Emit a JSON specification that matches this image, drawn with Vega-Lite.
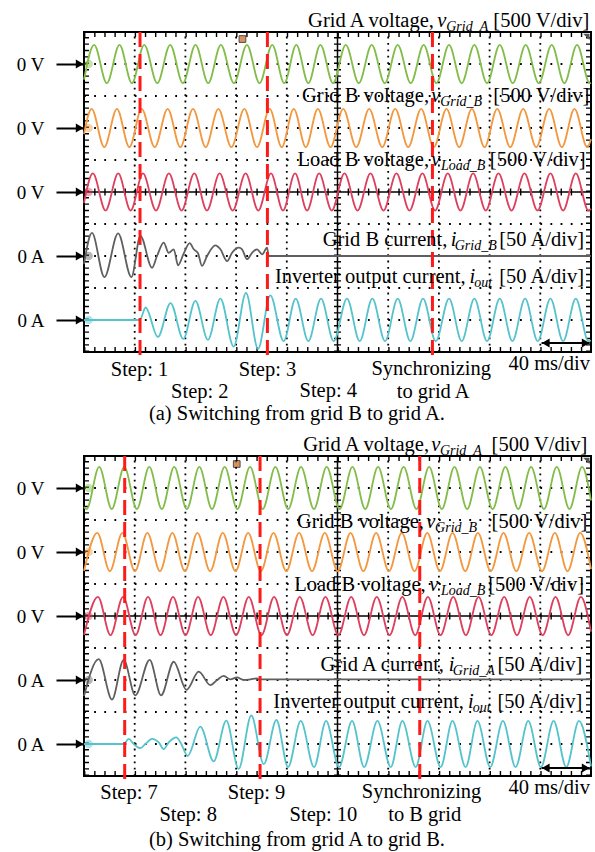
{
  "$schema": "https://vega.github.io/schema/vega-lite/v6.json",
  "background": "white",
  "padding": {"left": 15, "top": 10, "right": 3, "bottom": 0},
  "bounds": "flush",
  "spacing": 104,
  "config": {
    "view": {"stroke": "black", "strokeWidth": 2},
    "font": "Liberation Serif",
    "text": {"font": "Liberation Serif", "fontSize": 20.5, "color": "black"}
  },
  "datasets": {
    "gridV": [{"t":40,"v":0,"v2":10},{"t":80,"v":0,"v2":10},{"t":120,"v":0,"v2":10},{"t":160,"v":0,"v2":10},{"t":240,"v":0,"v2":10},{"t":280,"v":0,"v2":10},{"t":320,"v":0,"v2":10},{"t":360,"v":0,"v2":10}],
    "gridH": [{"t":0,"t2":400,"v":1},{"t":0,"t2":400,"v":2},{"t":0,"t2":400,"v":3},{"t":0,"t2":400,"v":4},{"t":0,"t2":400,"v":6},{"t":0,"t2":400,"v":7},{"t":0,"t2":400,"v":8},{"t":0,"t2":400,"v":9}],
    "ctrV": [{"t":200,"v":0,"v2":10}],
    "ctrH": [{"t":0,"t2":400,"v":5}],
    "edgeH": [{"t":0,"t2":400,"v":0.08},{"t":0,"t2":400,"v":9.92}],
    "edgeV": [{"t":1.97,"v":0,"v2":10},{"t":398.03,"v":0,"v2":10}],
    "mk": [{"s":"gA","t":3.7,"v":9},{"s":"gB","t":3.7,"v":7},{"s":"lB","t":3.7,"v":5},{"s":"ig","t":3.7,"v":3},{"s":"io","t":3.7,"v":1}],
    "corner": [{"t":396.3,"v":9.85}],
    "wa": [
      {"s":"gA","t":0,"v":8.51},{"s":"gA","t":8,"v":9.6},{"s":"gA","t":18,"v":8.4},{"s":"gA","t":28,"v":9.6},{"s":"gA","t":37.8,"v":8.4},{"s":"gA","t":47.5,"v":9.6},{"s":"gA","t":57.8,"v":8.4},{"s":"gA","t":68,"v":9.6},{"s":"gA","t":78,"v":8.4},{"s":"gA","t":88,"v":9.6},{"s":"gA","t":98,"v":8.4},{"s":"gA","t":108,"v":9.6},{"s":"gA","t":118.3,"v":8.4},{"s":"gA","t":128.5,"v":9.6},{"s":"gA","t":138.5,"v":8.4},{"s":"gA","t":148.5,"v":9.6},{"s":"gA","t":158,"v":8.4},{"s":"gA","t":167.5,"v":9.6},{"s":"gA","t":177,"v":8.4},{"s":"gA","t":186.5,"v":9.6},{"s":"gA","t":196.5,"v":8.4},{"s":"gA","t":206.5,"v":9.6},{"s":"gA","t":216.8,"v":8.4},{"s":"gA","t":227,"v":9.6},{"s":"gA","t":237.3,"v":8.4},{"s":"gA","t":247.5,"v":9.6},{"s":"gA","t":257.8,"v":8.4},{"s":"gA","t":268,"v":9.6},{"s":"gA","t":278,"v":8.4},{"s":"gA","t":288,"v":9.6},{"s":"gA","t":298,"v":8.4},{"s":"gA","t":308,"v":9.6},{"s":"gA","t":318,"v":8.4},{"s":"gA","t":328,"v":9.6},{"s":"gA","t":338.3,"v":8.4},{"s":"gA","t":348.5,"v":9.6},{"s":"gA","t":358.8,"v":8.4},{"s":"gA","t":369,"v":9.6},{"s":"gA","t":379,"v":8.4},{"s":"gA","t":389,"v":9.6},{"s":"gA","t":399,"v":8.4},{"s":"gA","t":400,"v":8.41},
      {"s":"gB","t":0,"v":6.81},{"s":"gB","t":6,"v":7.6},{"s":"gB","t":16,"v":6.4},{"s":"gB","t":26,"v":7.6},{"s":"gB","t":35.8,"v":6.4},{"s":"gB","t":45.5,"v":7.6},{"s":"gB","t":55.8,"v":6.4},{"s":"gB","t":66,"v":7.6},{"s":"gB","t":76,"v":6.4},{"s":"gB","t":86,"v":7.6},{"s":"gB","t":96,"v":6.4},{"s":"gB","t":106,"v":7.6},{"s":"gB","t":116.3,"v":6.4},{"s":"gB","t":126.5,"v":7.6},{"s":"gB","t":136.5,"v":6.4},{"s":"gB","t":146.5,"v":7.6},{"s":"gB","t":156,"v":6.4},{"s":"gB","t":165.5,"v":7.6},{"s":"gB","t":175,"v":6.4},{"s":"gB","t":184.5,"v":7.6},{"s":"gB","t":194.5,"v":6.4},{"s":"gB","t":204.5,"v":7.6},{"s":"gB","t":214.8,"v":6.4},{"s":"gB","t":225,"v":7.6},{"s":"gB","t":235.3,"v":6.4},{"s":"gB","t":245.5,"v":7.6},{"s":"gB","t":255.8,"v":6.4},{"s":"gB","t":266,"v":7.6},{"s":"gB","t":276,"v":6.4},{"s":"gB","t":286,"v":7.6},{"s":"gB","t":296,"v":6.4},{"s":"gB","t":306,"v":7.6},{"s":"gB","t":316,"v":6.4},{"s":"gB","t":326,"v":7.6},{"s":"gB","t":336.3,"v":6.4},{"s":"gB","t":346.5,"v":7.6},{"s":"gB","t":356.8,"v":6.4},{"s":"gB","t":367,"v":7.6},{"s":"gB","t":377,"v":6.4},{"s":"gB","t":387,"v":7.6},{"s":"gB","t":397,"v":6.4},{"s":"gB","t":400,"v":6.65},
      {"s":"lB","t":0,"v":4.66},{"s":"lB","t":7,"v":5.58},{"s":"lB","t":17,"v":4.42},{"s":"lB","t":27,"v":5.58},{"s":"lB","t":36.8,"v":4.42},{"s":"lB","t":46.5,"v":5.58},{"s":"lB","t":56.8,"v":4.42},{"s":"lB","t":67,"v":5.58},{"s":"lB","t":77,"v":4.42},{"s":"lB","t":87,"v":5.58},{"s":"lB","t":97,"v":4.42},{"s":"lB","t":107,"v":5.58},{"s":"lB","t":117.3,"v":4.42},{"s":"lB","t":127.5,"v":5.58},{"s":"lB","t":137.5,"v":4.42},{"s":"lB","t":147.5,"v":5.58},{"s":"lB","t":157,"v":4.42},{"s":"lB","t":166.5,"v":5.58},{"s":"lB","t":176,"v":4.42},{"s":"lB","t":185.5,"v":5.58},{"s":"lB","t":195.5,"v":4.42},{"s":"lB","t":205.5,"v":5.58},{"s":"lB","t":215.8,"v":4.42},{"s":"lB","t":226,"v":5.58},{"s":"lB","t":236.3,"v":4.42},{"s":"lB","t":246.5,"v":5.58},{"s":"lB","t":256.8,"v":4.42},{"s":"lB","t":267,"v":5.58},{"s":"lB","t":277,"v":4.42},{"s":"lB","t":287,"v":5.58},{"s":"lB","t":297,"v":4.42},{"s":"lB","t":307,"v":5.58},{"s":"lB","t":317,"v":4.42},{"s":"lB","t":327,"v":5.58},{"s":"lB","t":337.3,"v":4.42},{"s":"lB","t":347.5,"v":5.58},{"s":"lB","t":357.8,"v":4.42},{"s":"lB","t":368,"v":5.58},{"s":"lB","t":378,"v":4.42},{"s":"lB","t":388,"v":5.58},{"s":"lB","t":398,"v":4.42},{"s":"lB","t":400,"v":4.47},
      {"s":"ig","t":0,"v":2.75},{"s":"ig","t":6.3,"v":3.72},{"s":"ig","t":16.1,"v":2.34},{"s":"ig","t":26.9,"v":3.71},{"s":"ig","t":37.4,"v":2.34},{"s":"ig","t":44.5,"v":3.63},{"s":"ig","t":53.7,"v":2.63},{"s":"ig","t":57.6,"v":3.0},{"s":"ig","t":62.9,"v":3.42},{"s":"ig","t":66.8,"v":3.1},{"s":"ig","t":70.8,"v":3.21},{"s":"ig","t":74.2,"v":2.71},{"s":"ig","t":78.7,"v":3.08},{"s":"ig","t":83.4,"v":3.4},{"s":"ig","t":86.6,"v":3.21},{"s":"ig","t":90,"v":3.08},{"s":"ig","t":93.1,"v":2.69},{"s":"ig","t":97.1,"v":3.0},{"s":"ig","t":103.6,"v":3.33},{"s":"ig","t":107.6,"v":3.21},{"s":"ig","t":112.9,"v":2.84},{"s":"ig","t":116.8,"v":3.1},{"s":"ig","t":122.1,"v":3.26},{"s":"ig","t":124.7,"v":3.21},{"s":"ig","t":128.6,"v":2.9},{"s":"ig","t":132.6,"v":3.1},{"s":"ig","t":136.5,"v":3.21},{"s":"ig","t":140.5,"v":3.05},{"s":"ig","t":144.4,"v":3.26},{"s":"ig","t":145.7,"v":3.0},{"s":"ig","t":400,"v":3.0},
      {"s":"io","t":0,"v":1.0},{"s":"io","t":44,"v":1.0},{"s":"io","t":48.6,"v":1.39},{"s":"io","t":58.3,"v":0.47},{"s":"io","t":68.3,"v":1.53},{"s":"io","t":78.3,"v":0.41},{"s":"io","t":87.9,"v":1.6},{"s":"io","t":97.8,"v":0.38},{"s":"io","t":107.6,"v":1.67},{"s":"io","t":118.1,"v":0.17},{"s":"io","t":127.8,"v":1.85},{"s":"io","t":137.3,"v":0.1},{"s":"io","t":147,"v":1.77},{"s":"io","t":157.5,"v":0.34},{"s":"io","t":167,"v":1.67},{"s":"io","t":177,"v":0.34},{"s":"io","t":187,"v":1.67},{"s":"io","t":197,"v":0.34},{"s":"io","t":207.5,"v":1.67},{"s":"io","t":217.5,"v":0.34},{"s":"io","t":227.5,"v":1.67},{"s":"io","t":237.5,"v":0.34},{"s":"io","t":247.5,"v":1.67},{"s":"io","t":257.5,"v":0.34},{"s":"io","t":267.5,"v":1.67},{"s":"io","t":277.5,"v":0.34},{"s":"io","t":288,"v":1.67},{"s":"io","t":298,"v":0.34},{"s":"io","t":308,"v":1.67},{"s":"io","t":318,"v":0.34},{"s":"io","t":328,"v":1.67},{"s":"io","t":338,"v":0.34},{"s":"io","t":348,"v":1.67},{"s":"io","t":358,"v":0.34},{"s":"io","t":368,"v":1.67},{"s":"io","t":378,"v":0.34},{"s":"io","t":388,"v":1.67},{"s":"io","t":398,"v":0.34},{"s":"io","t":400,"v":0.36}
    ],
    "wb": [
      {"s":"gA","t":0,"v":8.4},{"s":"gA","t":2,"v":8.34},{"s":"gA","t":12,"v":9.66},{"s":"gA","t":21.9,"v":8.34},{"s":"gA","t":31.8,"v":9.66},{"s":"gA","t":41.7,"v":8.34},{"s":"gA","t":51.5,"v":9.66},{"s":"gA","t":61.4,"v":8.34},{"s":"gA","t":71.2,"v":9.66},{"s":"gA","t":81.1,"v":8.34},{"s":"gA","t":91,"v":9.66},{"s":"gA","t":101,"v":8.34},{"s":"gA","t":111,"v":9.66},{"s":"gA","t":121,"v":8.34},{"s":"gA","t":131,"v":9.66},{"s":"gA","t":141,"v":8.34},{"s":"gA","t":151,"v":9.66},{"s":"gA","t":161.1,"v":8.34},{"s":"gA","t":171.2,"v":9.66},{"s":"gA","t":181.4,"v":8.34},{"s":"gA","t":191.5,"v":9.66},{"s":"gA","t":201.7,"v":8.34},{"s":"gA","t":211.8,"v":9.66},{"s":"gA","t":221.9,"v":8.34},{"s":"gA","t":232,"v":9.66},{"s":"gA","t":242.1,"v":8.34},{"s":"gA","t":252.2,"v":9.66},{"s":"gA","t":262.3,"v":8.34},{"s":"gA","t":272.3,"v":9.66},{"s":"gA","t":282.3,"v":8.34},{"s":"gA","t":292.3,"v":9.66},{"s":"gA","t":302.3,"v":8.34},{"s":"gA","t":312.3,"v":9.66},{"s":"gA","t":322.4,"v":8.34},{"s":"gA","t":332.5,"v":9.66},{"s":"gA","t":342.6,"v":8.34},{"s":"gA","t":352.7,"v":9.66},{"s":"gA","t":362.9,"v":8.34},{"s":"gA","t":373,"v":9.66},{"s":"gA","t":383,"v":8.34},{"s":"gA","t":393,"v":9.66},{"s":"gA","t":400,"v":8.61},
      {"s":"gB","t":0,"v":6.41},{"s":"gB","t":10.5,"v":7.6},{"s":"gB","t":20.4,"v":6.4},{"s":"gB","t":30.3,"v":7.6},{"s":"gB","t":40.2,"v":6.4},{"s":"gB","t":50,"v":7.6},{"s":"gB","t":59.9,"v":6.4},{"s":"gB","t":69.7,"v":7.6},{"s":"gB","t":79.6,"v":6.4},{"s":"gB","t":89.5,"v":7.6},{"s":"gB","t":99.5,"v":6.4},{"s":"gB","t":109.5,"v":7.6},{"s":"gB","t":119.5,"v":6.4},{"s":"gB","t":129.5,"v":7.6},{"s":"gB","t":139.5,"v":6.4},{"s":"gB","t":149.5,"v":7.6},{"s":"gB","t":159.6,"v":6.4},{"s":"gB","t":169.7,"v":7.6},{"s":"gB","t":179.9,"v":6.4},{"s":"gB","t":190,"v":7.6},{"s":"gB","t":200.2,"v":6.4},{"s":"gB","t":210.3,"v":7.6},{"s":"gB","t":220.4,"v":6.4},{"s":"gB","t":230.5,"v":7.6},{"s":"gB","t":240.6,"v":6.4},{"s":"gB","t":250.7,"v":7.6},{"s":"gB","t":260.8,"v":6.4},{"s":"gB","t":270.8,"v":7.6},{"s":"gB","t":280.8,"v":6.4},{"s":"gB","t":290.8,"v":7.6},{"s":"gB","t":300.8,"v":6.4},{"s":"gB","t":310.8,"v":7.6},{"s":"gB","t":320.9,"v":6.4},{"s":"gB","t":331,"v":7.6},{"s":"gB","t":341.1,"v":6.4},{"s":"gB","t":351.2,"v":7.6},{"s":"gB","t":361.4,"v":6.4},{"s":"gB","t":371.5,"v":7.6},{"s":"gB","t":381.5,"v":6.4},{"s":"gB","t":391.5,"v":7.6},{"s":"gB","t":400,"v":6.47},
      {"s":"lB","t":0,"v":4.41},{"s":"lB","t":11,"v":5.6},{"s":"lB","t":20.9,"v":4.4},{"s":"lB","t":30.8,"v":5.6},{"s":"lB","t":40.7,"v":4.4},{"s":"lB","t":50.5,"v":5.6},{"s":"lB","t":60.4,"v":4.4},{"s":"lB","t":70.2,"v":5.6},{"s":"lB","t":80.1,"v":4.4},{"s":"lB","t":90,"v":5.6},{"s":"lB","t":100,"v":4.4},{"s":"lB","t":110,"v":5.6},{"s":"lB","t":120,"v":4.4},{"s":"lB","t":130,"v":5.6},{"s":"lB","t":140,"v":4.4},{"s":"lB","t":150,"v":5.6},{"s":"lB","t":160.1,"v":4.4},{"s":"lB","t":170.2,"v":5.6},{"s":"lB","t":180.4,"v":4.4},{"s":"lB","t":190.5,"v":5.6},{"s":"lB","t":200.7,"v":4.4},{"s":"lB","t":210.8,"v":5.6},{"s":"lB","t":220.9,"v":4.4},{"s":"lB","t":231,"v":5.6},{"s":"lB","t":241.1,"v":4.4},{"s":"lB","t":251.2,"v":5.6},{"s":"lB","t":261.3,"v":4.4},{"s":"lB","t":271.3,"v":5.6},{"s":"lB","t":281.3,"v":4.4},{"s":"lB","t":291.3,"v":5.6},{"s":"lB","t":301.3,"v":4.4},{"s":"lB","t":311.3,"v":5.6},{"s":"lB","t":321.4,"v":4.4},{"s":"lB","t":331.5,"v":5.6},{"s":"lB","t":341.6,"v":4.4},{"s":"lB","t":351.7,"v":5.6},{"s":"lB","t":361.9,"v":4.4},{"s":"lB","t":372,"v":5.6},{"s":"lB","t":382,"v":4.4},{"s":"lB","t":392,"v":5.6},{"s":"lB","t":400,"v":4.51},
      {"s":"ig","t":0,"v":2.5},{"s":"ig","t":11.6,"v":3.65},{"s":"ig","t":22.1,"v":2.39},{"s":"ig","t":31.3,"v":3.63},{"s":"ig","t":40.5,"v":2.52},{"s":"ig","t":51.8,"v":3.63},{"s":"ig","t":60.8,"v":2.52},{"s":"ig","t":70.8,"v":3.57},{"s":"ig","t":80.8,"v":2.69},{"s":"ig","t":90.5,"v":3.26},{"s":"ig","t":99.7,"v":2.84},{"s":"ig","t":105,"v":3.0},{"s":"ig","t":110.2,"v":3.13},{"s":"ig","t":115.5,"v":3.02},{"s":"ig","t":120.7,"v":3.08},{"s":"ig","t":126,"v":3.0},{"s":"ig","t":131.3,"v":3.02},{"s":"ig","t":136.5,"v":3.05},{"s":"ig","t":137.8,"v":3.02},{"s":"ig","t":400,"v":3.02},
      {"s":"io","t":0,"v":1.0},{"s":"io","t":31.3,"v":1.0},{"s":"io","t":35.3,"v":1.16},{"s":"io","t":39.2,"v":1.0},{"s":"io","t":44.5,"v":0.87},{"s":"io","t":48.4,"v":1.0},{"s":"io","t":53.7,"v":1.16},{"s":"io","t":59,"v":1.05},{"s":"io","t":62.9,"v":0.84},{"s":"io","t":66.8,"v":1.05},{"s":"io","t":72.9,"v":1.21},{"s":"io","t":76.1,"v":1.05},{"s":"io","t":81.8,"v":0.63},{"s":"io","t":91.8,"v":1.54},{"s":"io","t":102.3,"v":0.46},{"s":"io","t":112.3,"v":1.73},{"s":"io","t":122,"v":0.22},{"s":"io","t":132,"v":1.89},{"s":"io","t":141.8,"v":0.37},{"s":"io","t":151.8,"v":1.75},{"s":"io","t":161,"v":0.28},{"s":"io","t":171,"v":1.72},{"s":"io","t":181.5,"v":0.28},{"s":"io","t":191,"v":1.72},{"s":"io","t":201.2,"v":0.28},{"s":"io","t":211.5,"v":1.72},{"s":"io","t":221,"v":0.28},{"s":"io","t":231.5,"v":1.72},{"s":"io","t":242,"v":0.28},{"s":"io","t":251.2,"v":1.72},{"s":"io","t":261.7,"v":0.28},{"s":"io","t":271,"v":1.72},{"s":"io","t":281.4,"v":0.28},{"s":"io","t":290.7,"v":1.72},{"s":"io","t":301.1,"v":0.28},{"s":"io","t":310.4,"v":1.72},{"s":"io","t":320.5,"v":0.28},{"s":"io","t":330.5,"v":1.72},{"s":"io","t":340.5,"v":0.28},{"s":"io","t":350.5,"v":1.72},{"s":"io","t":360.5,"v":0.28},{"s":"io","t":370.5,"v":1.72},{"s":"io","t":380.5,"v":0.28},{"s":"io","t":390.5,"v":1.72},{"s":"io","t":400,"v":0.3}
    ],
    "da": [{"t":44.2,"v":10,"v2":-0.22},{"t":144.7,"v":10,"v2":-0.22},{"t":274.9,"v":10,"v2":-0.22}],
    "db": [{"t":32.1,"v":10,"v2":-0.21},{"t":138.9,"v":10,"v2":-0.21},{"t":264.9,"v":10,"v2":-0.21}],
    "ha": [{"t":-3.4,"v":1,"d":"R"},{"t":-3.4,"v":3,"d":"R"},{"t":-3.4,"v":5,"d":"R"},{"t":-3.4,"v":7,"d":"R"},{"t":-3.4,"v":9,"d":"R"},{"t":364.3,"v":0.28,"d":"L"},{"t":395.8,"v":0.28,"d":"R"}],
    "hb": [{"t":-3.4,"v":1,"d":"R"},{"t":-3.4,"v":3,"d":"R"},{"t":-3.4,"v":5,"d":"R"},{"t":-3.4,"v":7,"d":"R"},{"t":-3.4,"v":9,"d":"R"},{"t":364.3,"v":0.25,"d":"L"},{"t":395.8,"v":0.25,"d":"R"}],
    "bara": [{"t":361,"t2":399,"v":0.28}],
    "barb": [{"t":361,"t2":399,"v":0.25}],
    "triga": [{"t":125,"v":9.78}],
    "trigb": [{"t":120.5,"v":9.75}],
    "ta_r": [
      {"label":"Grid A voltage,","t":276.1,"v":10.34},{"label":"[500 V/div]","t":398.6,"v":10.34},
      {"label":"Grid B voltage,","t":272.2,"v":8.0},{"label":"[500 V/div]","t":398.6,"v":8.0},
      {"label":"Load B voltage,","t":272.2,"v":6.0},{"label":"[500 V/div]","t":395.8,"v":6.0},
      {"label":"Grid B current,","t":286.7,"v":3.5},{"label":"[50 A/div]","t":394.5,"v":3.5},
      {"label":"Inverter output current,","t":301.1,"v":2.33},{"label":"[50 A/div]","t":394.5,"v":2.33},
      {"label":"40 ms/div","t":399.2,"v":-0.38}
    ],
    "ta_i": [{"label":"v","t":278.6,"v":10.34},{"label":"v","t":274,"v":8.0},{"label":"v","t":274,"v":6.0},{"label":"i","t":289.3,"v":3.5},{"label":"i","t":304.2,"v":2.33}],
    "ta_s": [{"label":"Grid_A","t":285.8,"v":10.34},{"label":"Grid_B","t":281,"v":8.0},{"label":"Load_B","t":281.6,"v":6.0},{"label":"Grid_B","t":292.5,"v":3.5},{"label":"out","t":307.9,"v":2.33}],
    "ta_c": [
      {"label":"Step: 1","t":43.8,"v":-0.56},{"label":"Step: 2","t":91.4,"v":-1.24},{"label":"Step: 3","t":144.8,"v":-0.56},{"label":"Step: 4","t":192.7,"v":-1.22},
      {"label":"Synchronizing","t":273.9,"v":-0.53},{"label":"to grid A","t":275.5,"v":-1.24},
      {"label":"(a) Switching from grid B to grid A.","t":168,"v":-1.93}
    ],
    "tb_r": [
      {"label":"Grid A voltage,","t":272.2,"v":10.34},{"label":"[500 V/div]","t":397.2,"v":10.34},
      {"label":"Grid B voltage,","t":268.2,"v":7.95},{"label":"[500 V/div]","t":397.2,"v":7.95},
      {"label":"Load B voltage,","t":269.6,"v":5.97},{"label":"[500 V/div]","t":394.5,"v":5.97},
      {"label":"Grid A current,","t":284,"v":3.47},{"label":"[50 A/div]","t":393.2,"v":3.47},
      {"label":"Inverter output current,","t":299.8,"v":2.32},{"label":"[50 A/div]","t":393.2,"v":2.32},
      {"label":"40 ms/div","t":399.2,"v":-0.39}
    ],
    "tb_i": [{"label":"v","t":273.9,"v":10.34},{"label":"v","t":270,"v":7.95},{"label":"v","t":272.4,"v":5.97},{"label":"i","t":287.8,"v":3.47},{"label":"i","t":303,"v":2.32}],
    "tb_s": [{"label":"Grid_A","t":280.8,"v":10.34},{"label":"Grid_B","t":277,"v":7.95},{"label":"Load_B","t":281.6,"v":5.97},{"label":"Grid_A","t":291,"v":3.47},{"label":"out","t":306.8,"v":2.32}],
    "tb_c": [
      {"label":"Step: 7","t":35.5,"v":-0.53},{"label":"Step: 8","t":82.2,"v":-1.22},{"label":"Step: 9","t":136.1,"v":-0.53},{"label":"Step: 10","t":188.9,"v":-1.22},
      {"label":"Synchronizing","t":266.3,"v":-0.5},{"label":"to B grid","t":268.8,"v":-1.22},
      {"label":"(b) Switching from grid A to grid B.","t":168,"v":-2.0}
    ]
  },
  "vconcat": [
    {
      "width": 507, "height": 320,
      "encoding": {
        "x": {"field": "t", "type": "quantitative", "scale": {"domain": [0, 400], "nice": false, "zero": false}, "axis": null},
        "y": {"field": "v", "type": "quantitative", "scale": {"domain": [0, 10], "nice": false, "zero": false},
              "axis": {"values": [1, 3, 5, 7, 9], "labelExpr": "datum.value >= 5 ? '0 V' : '0 A'", "domain": false, "grid": false, "tickSize": 28, "tickWidth": 2, "tickColor": "black", "labelPadding": 12, "labelFont": "Liberation Serif", "labelFontSize": 19, "labelColor": "black", "title": null}}
      },
      "layer": [
        {"data": {"name": "gridV"}, "mark": {"type": "rule", "color": "black", "strokeWidth": 1.8, "strokeDash": [1.8, 4.6]}, "encoding": {"y2": {"field": "v2"}}},
        {"data": {"name": "gridH"}, "mark": {"type": "rule", "color": "black", "strokeWidth": 1.8, "strokeDash": [1.8, 8.34]}, "encoding": {"x2": {"field": "t2"}}},
        {"data": {"name": "ctrV"}, "mark": {"type": "rule", "color": "black", "strokeWidth": 1.5}, "encoding": {"y2": {"field": "v2"}}},
        {"data": {"name": "ctrV"}, "mark": {"type": "rule", "color": "black", "strokeWidth": 7, "strokeDash": [1.4, 5.0]}, "encoding": {"y2": {"field": "v2"}}},
        {"data": {"name": "ctrH"}, "mark": {"type": "rule", "color": "black", "strokeWidth": 1.5}, "encoding": {"x2": {"field": "t2"}}},
        {"data": {"name": "ctrH"}, "mark": {"type": "rule", "color": "black", "strokeWidth": 7, "strokeDash": [1.4, 8.74]}, "encoding": {"x2": {"field": "t2"}}},
        {"data": {"name": "edgeH"}, "mark": {"type": "rule", "color": "black", "strokeWidth": 5, "strokeDash": [1.4, 8.74]}, "encoding": {"x2": {"field": "t2"}}},
        {"data": {"name": "edgeV"}, "mark": {"type": "rule", "color": "black", "strokeWidth": 5, "strokeDash": [1.4, 5.0]}, "encoding": {"y2": {"field": "v2"}}},
        {"data": {"name": "wa"}, "mark": {"type": "line", "interpolate": "monotone", "strokeWidth": 1.8},
         "encoding": {"color": {"field": "s", "type": "nominal", "scale": {"domain": ["gA", "gB", "lB", "ig", "io"], "range": ["#82bd4a", "#f2983e", "#dd3f5d", "#5f5f5f", "#55c3cc"]}, "legend": null}}},
        {"data": {"name": "mk"}, "mark": {"type": "point", "filled": true, "size": 70, "opacity": 0.45},
         "encoding": {"color": {"field": "s", "type": "nominal", "scale": {"domain": ["gA", "gB", "lB", "ig", "io"], "range": ["#82bd4a", "#f2983e", "#dd3f5d", "#5f5f5f", "#55c3cc"]}, "legend": null}}},
        {"data": {"name": "da"}, "mark": {"type": "rule", "color": "#ff1a1a", "strokeWidth": 3, "strokeDash": [15, 7]}, "encoding": {"y2": {"field": "v2"}}},
        {"data": {"name": "triga"}, "mark": {"type": "point", "shape": "square", "filled": true, "size": 45, "color": "#c8641e", "stroke": "black", "strokeWidth": 1}},
        {"data": {"name": "corner"}, "mark": {"type": "point", "shape": "M -1 -1 L 1 -1 L 1 1 Z", "filled": true, "size": 40, "color": "#555555", "opacity": 1}},
        {"data": {"name": "bara"}, "mark": {"type": "rule", "color": "black", "strokeWidth": 2}, "encoding": {"x2": {"field": "t2"}}},
        {"data": {"name": "ha"}, "mark": {"type": "point", "filled": true, "size": 80, "color": "black", "opacity": 1, "clip": false},
         "encoding": {"shape": {"field": "d", "type": "nominal", "scale": {"domain": ["L", "R"], "range": ["triangle-left", "triangle-right"]}, "legend": null}}},
        {"data": {"name": "ta_r"}, "mark": {"type": "text", "align": "right", "baseline": "middle", "fontSize": 20.5}, "encoding": {"text": {"field": "label"}}},
        {"data": {"name": "ta_i"}, "mark": {"type": "text", "align": "left", "baseline": "middle", "fontSize": 20.5, "fontStyle": "italic"}, "encoding": {"text": {"field": "label"}}},
        {"data": {"name": "ta_s"}, "mark": {"type": "text", "align": "left", "baseline": "middle", "fontSize": 14, "fontStyle": "italic", "dy": 6}, "encoding": {"text": {"field": "label"}}},
        {"data": {"name": "ta_c"}, "mark": {"type": "text", "align": "center", "baseline": "middle", "fontSize": 20.5}, "encoding": {"text": {"field": "label"}}}
      ]
    },
    {
      "width": 507, "height": 320,
      "encoding": {
        "x": {"field": "t", "type": "quantitative", "scale": {"domain": [0, 400], "nice": false, "zero": false}, "axis": null},
        "y": {"field": "v", "type": "quantitative", "scale": {"domain": [0, 10], "nice": false, "zero": false},
              "axis": {"values": [1, 3, 5, 7, 9], "labelExpr": "datum.value >= 5 ? '0 V' : '0 A'", "domain": false, "grid": false, "tickSize": 28, "tickWidth": 2, "tickColor": "black", "labelPadding": 12, "labelFont": "Liberation Serif", "labelFontSize": 19, "labelColor": "black", "title": null}}
      },
      "layer": [
        {"data": {"name": "gridV"}, "mark": {"type": "rule", "color": "black", "strokeWidth": 1.8, "strokeDash": [1.8, 4.6]}, "encoding": {"y2": {"field": "v2"}}},
        {"data": {"name": "gridH"}, "mark": {"type": "rule", "color": "black", "strokeWidth": 1.8, "strokeDash": [1.8, 8.34]}, "encoding": {"x2": {"field": "t2"}}},
        {"data": {"name": "ctrV"}, "mark": {"type": "rule", "color": "black", "strokeWidth": 1.5}, "encoding": {"y2": {"field": "v2"}}},
        {"data": {"name": "ctrV"}, "mark": {"type": "rule", "color": "black", "strokeWidth": 7, "strokeDash": [1.4, 5.0]}, "encoding": {"y2": {"field": "v2"}}},
        {"data": {"name": "ctrH"}, "mark": {"type": "rule", "color": "black", "strokeWidth": 1.5}, "encoding": {"x2": {"field": "t2"}}},
        {"data": {"name": "ctrH"}, "mark": {"type": "rule", "color": "black", "strokeWidth": 7, "strokeDash": [1.4, 8.74]}, "encoding": {"x2": {"field": "t2"}}},
        {"data": {"name": "edgeH"}, "mark": {"type": "rule", "color": "black", "strokeWidth": 5, "strokeDash": [1.4, 8.74]}, "encoding": {"x2": {"field": "t2"}}},
        {"data": {"name": "edgeV"}, "mark": {"type": "rule", "color": "black", "strokeWidth": 5, "strokeDash": [1.4, 5.0]}, "encoding": {"y2": {"field": "v2"}}},
        {"data": {"name": "wb"}, "mark": {"type": "line", "interpolate": "monotone", "strokeWidth": 1.8},
         "encoding": {"color": {"field": "s", "type": "nominal", "scale": {"domain": ["gA", "gB", "lB", "ig", "io"], "range": ["#82bd4a", "#f2983e", "#dd3f5d", "#5f5f5f", "#55c3cc"]}, "legend": null}}},
        {"data": {"name": "mk"}, "mark": {"type": "point", "filled": true, "size": 70, "opacity": 0.45},
         "encoding": {"color": {"field": "s", "type": "nominal", "scale": {"domain": ["gA", "gB", "lB", "ig", "io"], "range": ["#82bd4a", "#f2983e", "#dd3f5d", "#5f5f5f", "#55c3cc"]}, "legend": null}}},
        {"data": {"name": "db"}, "mark": {"type": "rule", "color": "#ff1a1a", "strokeWidth": 3, "strokeDash": [15, 7]}, "encoding": {"y2": {"field": "v2"}}},
        {"data": {"name": "trigb"}, "mark": {"type": "point", "shape": "square", "filled": true, "size": 45, "color": "#c8641e", "stroke": "black", "strokeWidth": 1}},
        {"data": {"name": "corner"}, "mark": {"type": "point", "shape": "M -1 -1 L 1 -1 L 1 1 Z", "filled": true, "size": 40, "color": "#555555", "opacity": 1}},
        {"data": {"name": "barb"}, "mark": {"type": "rule", "color": "black", "strokeWidth": 2}, "encoding": {"x2": {"field": "t2"}}},
        {"data": {"name": "hb"}, "mark": {"type": "point", "filled": true, "size": 80, "color": "black", "opacity": 1, "clip": false},
         "encoding": {"shape": {"field": "d", "type": "nominal", "scale": {"domain": ["L", "R"], "range": ["triangle-left", "triangle-right"]}, "legend": null}}},
        {"data": {"name": "tb_r"}, "mark": {"type": "text", "align": "right", "baseline": "middle", "fontSize": 20.5}, "encoding": {"text": {"field": "label"}}},
        {"data": {"name": "tb_i"}, "mark": {"type": "text", "align": "left", "baseline": "middle", "fontSize": 20.5, "fontStyle": "italic"}, "encoding": {"text": {"field": "label"}}},
        {"data": {"name": "tb_s"}, "mark": {"type": "text", "align": "left", "baseline": "middle", "fontSize": 14, "fontStyle": "italic", "dy": 6}, "encoding": {"text": {"field": "label"}}},
        {"data": {"name": "tb_c"}, "mark": {"type": "text", "align": "center", "baseline": "middle", "fontSize": 20.5}, "encoding": {"text": {"field": "label"}}}
      ]
    }
  ]
}
